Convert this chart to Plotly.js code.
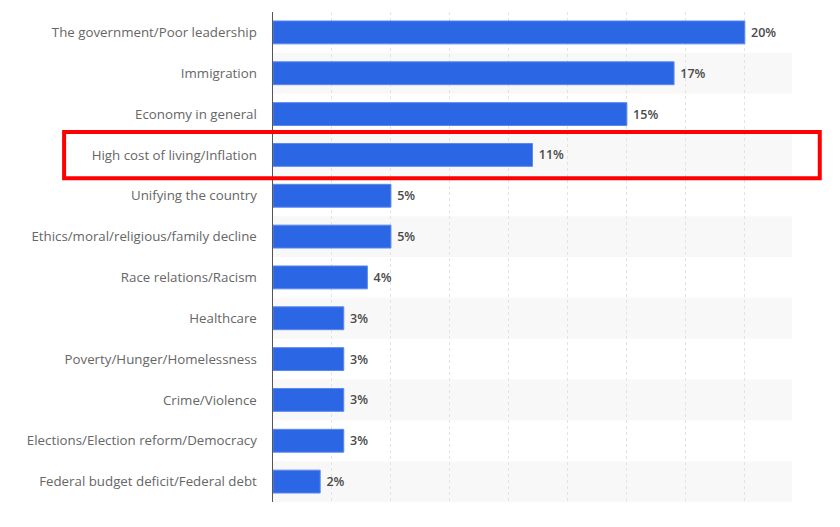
<!DOCTYPE html>
<html>
<head>
<meta charset="utf-8">
<script src="https://cdn.plot.ly/plotly-3.0.1.min.js"></script>
<style>html,body{margin:0;padding:0;background:#fff;}#chart{width:840px;height:527px;}</style>
</head>
<body>
<div id="chart"></div>
<script>
const categories = [
  "The government/Poor leadership",
  "Immigration",
  "Economy in general",
  "High cost of living/Inflation",
  "Unifying the country",
  "Ethics/moral/religious/family decline",
  "Race relations/Racism",
  "Healthcare",
  "Poverty/Hunger/Homelessness",
  "Crime/Violence",
  "Elections/Election reform/Democracy",
  "Federal budget deficit/Federal debt"
];
const values = [20, 17, 15, 11, 5, 5, 4, 3, 3, 3, 3, 2];
const highlighted = "High cost of living/Inflation";

const shapes = [];
categories.forEach((c, i) => {
  if (i % 2 === 1) {
    shapes.push({type:'rect', layer:'below', xref:'paper', yref:'y',
      x0:0, x1:1, y0:i-0.5, y1:i+0.5, fillcolor:'#f8f8f8', line:{width:0}});
  }
});
const hi = categories.indexOf(highlighted);
shapes.push({type:'rect', layer:'above', xref:'paper', yref:'y',
  x0:-0.4025, x1:1.0535, y0:hi-0.56, y1:hi+0.57,
  fillcolor:'rgba(0,0,0,0)', line:{color:'#ff0000', width:4}});

const trace = {
  type:'bar', orientation:'h',
  x: values, y: categories,
  marker:{color:'#2b66e4', line:{color:'#5b88ee', width:1}},
  texttemplate:' %{x}%', textposition:'outside', cliponaxis:false,
  textfont:{family:'Open Sans, sans-serif', size:12.5, color:'#4a4a4a', weight:600},
  hoverinfo:'none'
};

const layout = {
  width:840, height:527,
  margin:{l:273, r:48, t:12, b:25},
  paper_bgcolor:'#ffffff', plot_bgcolor:'#ffffff',
  bargap:0.44,
  showlegend:false,
  shapes: shapes,
  xaxis:{range:[0,22], dtick:2.5, tick0:0, showticklabels:false,
    showgrid:true, gridcolor:'#e3e3e3', griddash:'dot', gridwidth:1,
    zeroline:false, showline:false, fixedrange:true},
  yaxis:{type:'category', autorange:'reversed', showgrid:false,
    showline:true, linecolor:'#555', linewidth:1.5,
    ticks:'', ticklabelstandoff:12,
    tickfont:{family:'Open Sans, sans-serif', size:13.3, color:'#666'},
    zeroline:false, fixedrange:true}
};

Plotly.newPlot('chart', [trace], layout, {staticPlot:true, displayModeBar:false});
</script>
</body>
</html>
